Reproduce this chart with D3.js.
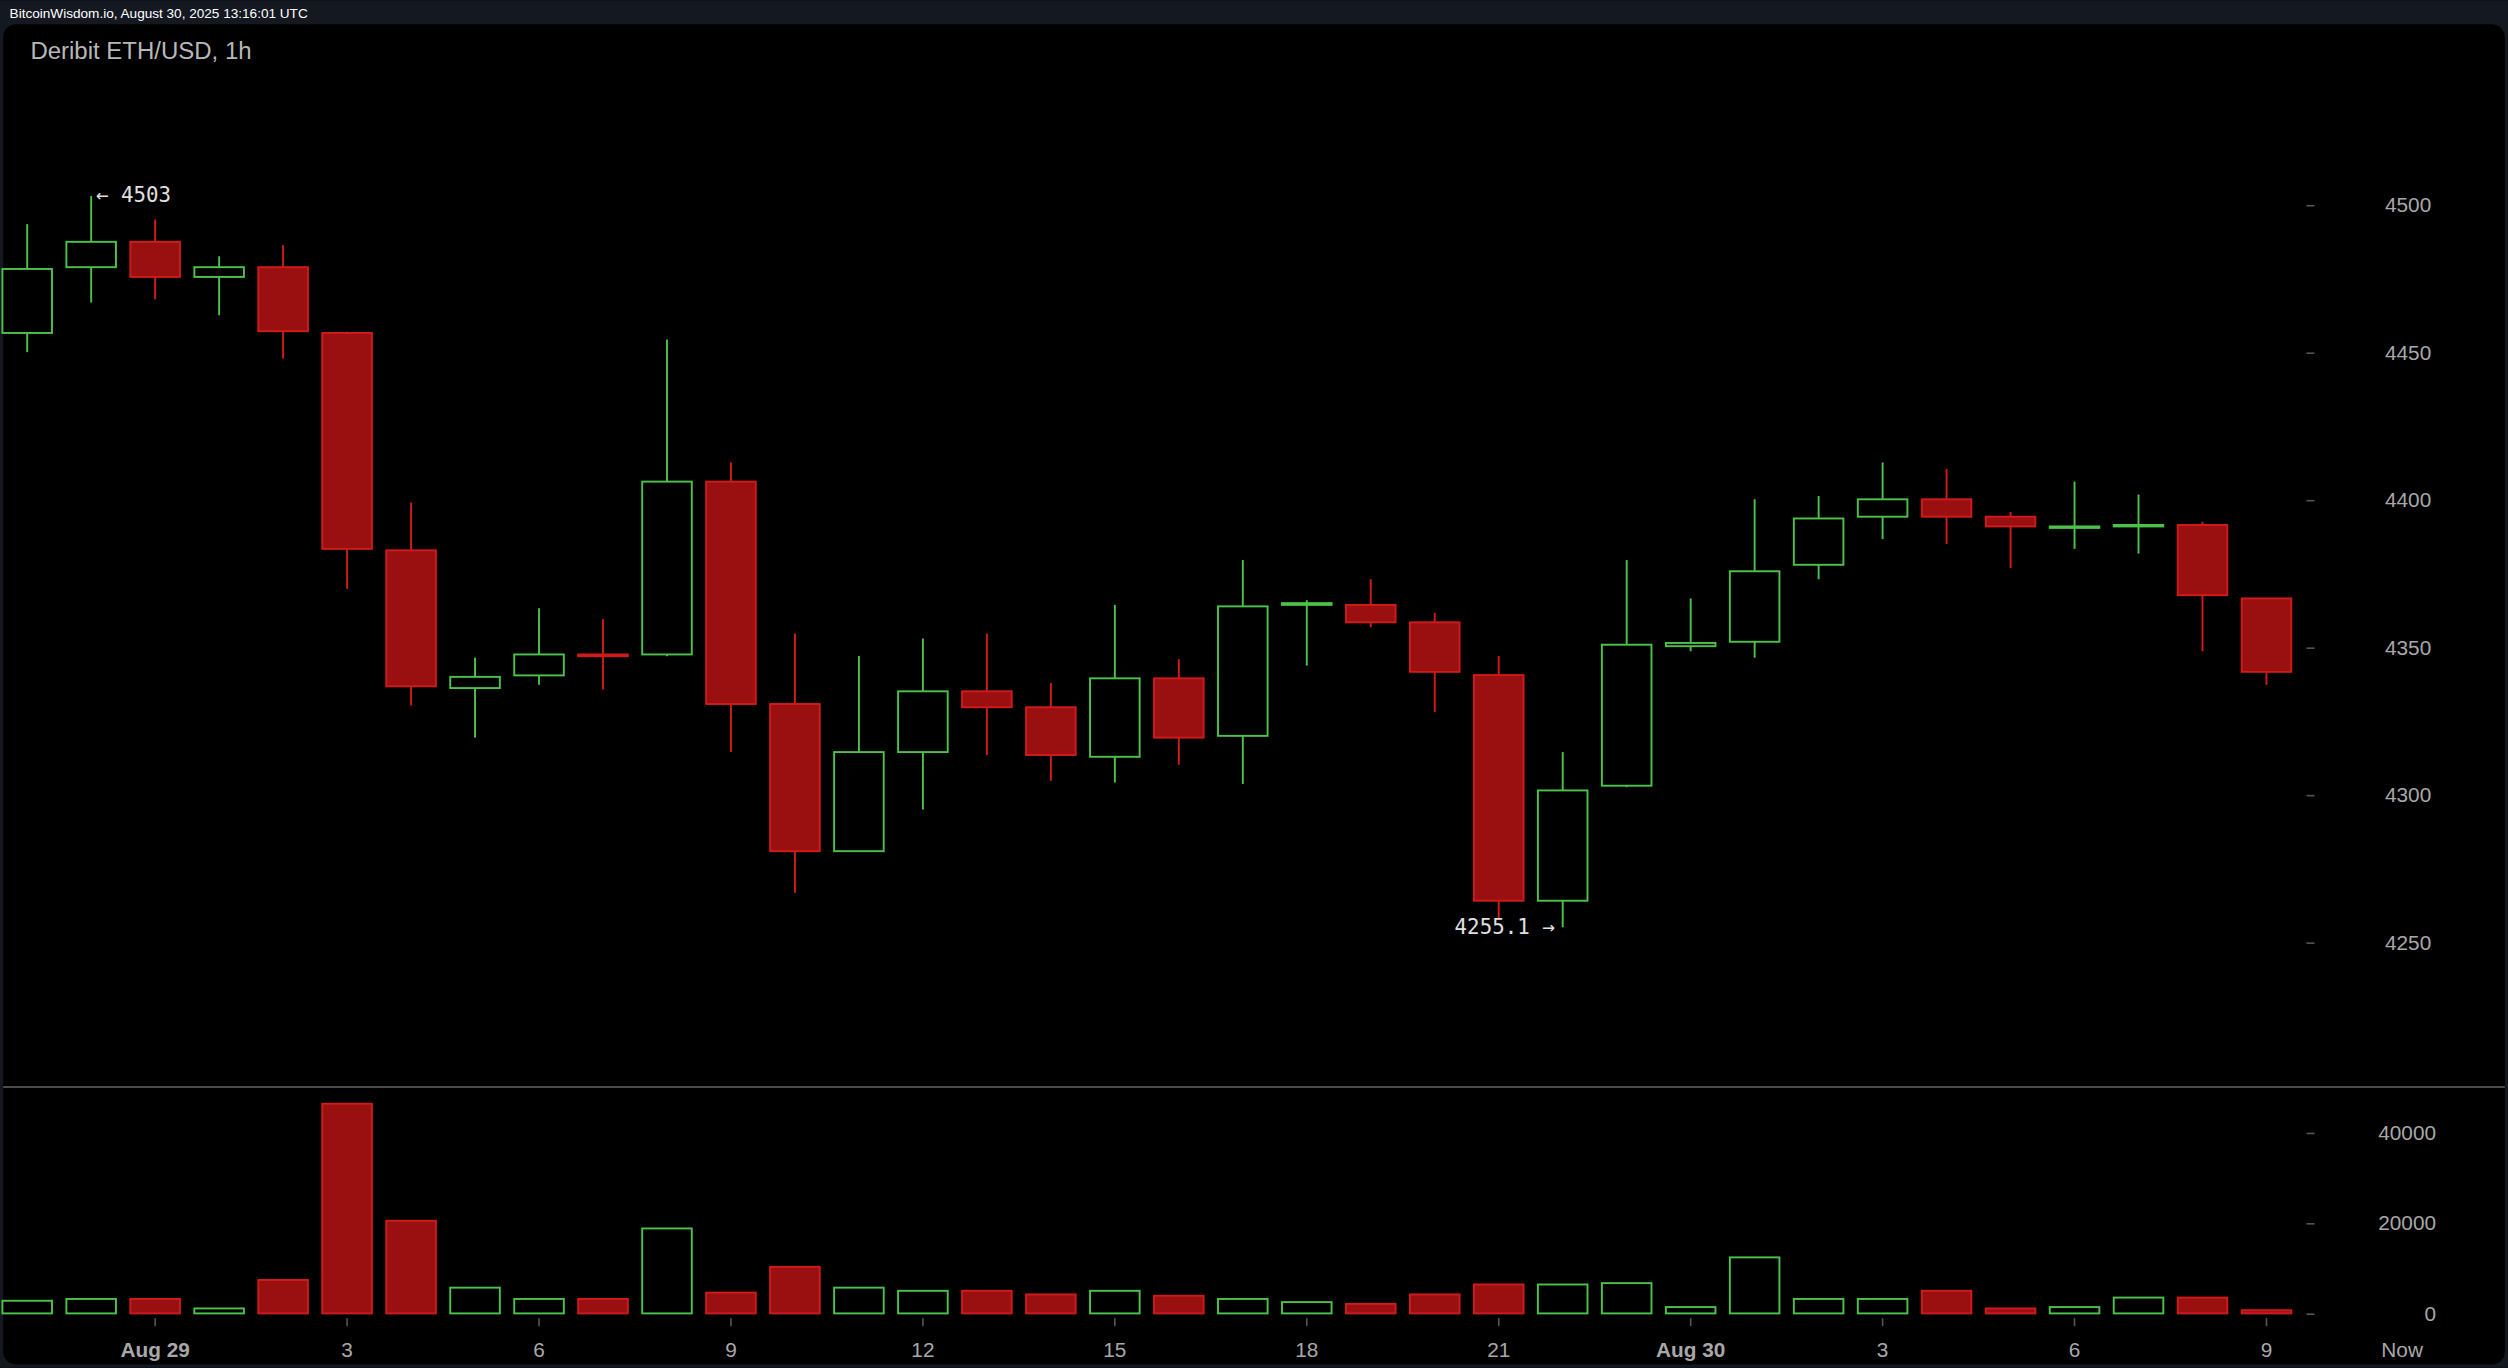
<!DOCTYPE html>
<html><head><meta charset="utf-8">
<script src="https://cdn.jsdelivr.net/npm/d3@7"></script>
<style>html,body{margin:0;padding:0;background:#000;overflow:hidden}</style>
</head><body>
<svg id="c" width="2508" height="1368" viewBox="0 0 1568 855"></svg>
<script>
const opens  = [4456.6,4478.9,4487.5,4475.6,4478.9,4456.6,4382.9,4336.2,4340.5,4347.6,4347.6,4406.2,4330.8,4280.9,4314.5,4335.1,4329.7,4312.9,4339.5,4320.0,4364.4,4364.4,4358.5,4340.6,4264.1,4303.1,4350.4,4351.9,4378.0,4394.3,4400.2,4394.3,4390.5,4391.0,4391.5,4366.6];
const closes = [4478.3,4487.5,4475.6,4478.9,4457.2,4383.4,4336.8,4340.0,4347.6,4347.0,4406.2,4330.8,4280.9,4314.5,4335.1,4329.7,4313.5,4339.5,4319.4,4363.9,4365.0,4358.5,4341.7,4264.1,4301.5,4350.9,4351.5,4375.8,4393.7,4400.2,4394.3,4391.0,4391.0,4391.5,4367.7,4341.7];
const highs  = [4493.5,4503.0,4495.1,4482.6,4486.4,4457.0,4399.1,4346.5,4363.3,4359.5,4454.4,4412.7,4354.7,4347.1,4353.0,4354.7,4337.9,4364.4,4346.0,4379.6,4366.0,4373.1,4361.7,4347.1,4314.5,4379.6,4366.6,4400.2,4401.3,4412.7,4410.5,4395.9,4406.2,4401.8,4392.6,4366.6];
const lows   = [4450.1,4466.9,4468.0,4462.6,4447.9,4369.9,4330.3,4319.4,4337.3,4335.7,4347.0,4314.5,4266.8,4280.9,4295.0,4313.5,4304.8,4304.2,4310.2,4303.7,4343.8,4356.8,4328.1,4258.0,4255.1,4302.6,4348.7,4346.5,4373.1,4386.7,4385.0,4376.9,4383.4,4381.8,4348.7,4337.3];
const volumes= [2800,3200,3200,1100,7400,46400,20500,5700,3200,3200,18800,4600,10300,5700,5000,5000,4200,5000,3900,3200,2500,2100,4200,6400,6400,6700,1400,12400,3200,3200,5000,1100,1400,3500,3500,700];
const priceTicks = [4250,4300,4350,4400,4450,4500];
const volTicks = [0,20000,40000];
const timeLabels = [[2,"Aug 29"],[5,"3"],[8,"6"],[11,"9"],[14,"12"],[17,"15"],[20,"18"],[23,"21"],[26,"Aug 30"],[29,"3"],[32,"6"],[35,"9"],[37.12,"Now"]];

const svg = d3.select("#c");
const x = d3.scaleLinear().domain([0,35]).range([17,1417]);
const y = d3.scaleLinear().domain([4250,4500]).range([589,128]);
const yv = d3.scaleLinear().domain([0,40000]).range([821,708]);
const GREEN="#4cc24c", RED="#d11b1b", REDF="#9a0f0f", TXT="#a8a8a8";
const font="'Liberation Sans', Arial, sans-serif";

svg.append("rect").attr("width",1568).attr("height",855).attr("fill","#141820");
svg.append("rect").attr("x",2).attr("y",15).attr("width",1564).attr("height",838).attr("rx",8).attr("fill","#000");
svg.append("text").attr("x",6).attr("y",11).attr("fill","#fff").attr("font-size",8.5).attr("font-family",font).text("BitcoinWisdom.io, August 30, 2025 13:16:01 UTC");
svg.append("text").attr("x",19).attr("y",37).attr("fill","#b8b8b8").attr("font-size",15).attr("font-family",font).text("Deribit ETH/USD, 1h");
svg.append("line").attr("x1",2).attr("x2",1566).attr("y1",679.5).attr("y2",679.5).attr("stroke","#666").attr("stroke-width",1);

const n = opens.length, idx = d3.range(n), bw = 31;
const up = i => closes[i] >= opens[i];

// price axis
const pa = svg.append("g").attr("transform","translate(1447,0)")
  .call(d3.axisLeft(y).tickValues(priceTicks).tickSize(5).tickFormat(d3.format("d")));
pa.select(".domain").remove();
pa.selectAll("line").attr("stroke","#555");
pa.selectAll("text").attr("x",73).attr("text-anchor","end").attr("fill",TXT).attr("font-size",13).attr("font-family",font);
const va = svg.append("g").attr("transform","translate(1447,0)")
  .call(d3.axisLeft(yv).tickValues(volTicks).tickSize(5).tickFormat(d3.format("d")));
va.select(".domain").remove();
va.selectAll("line").attr("stroke","#555");
va.selectAll("text").attr("x",76).attr("text-anchor","end").attr("fill",TXT).attr("font-size",13).attr("font-family",font);

// wicks
svg.append("g").selectAll("line").data(idx).join("line")
  .attr("x1",i=>x(i)).attr("x2",i=>x(i)).attr("y1",i=>y(highs[i])).attr("y2",i=>y(lows[i]))
  .attr("stroke",i=>up(i)?GREEN:RED).attr("stroke-width",1.2);
// bodies
svg.append("g").selectAll("rect").data(idx).join("rect")
  .attr("x",i=>x(i)-bw/2).attr("width",bw)
  .attr("y",i=>y(Math.max(opens[i],closes[i])))
  .attr("height",i=>Math.max(0.5,Math.abs(y(opens[i])-y(closes[i]))))
  .attr("fill",i=>up(i)?"#000":REDF).attr("stroke",i=>up(i)?GREEN:RED).attr("stroke-width",1.2);
// volumes
svg.append("g").selectAll("rect").data(idx).join("rect")
  .attr("x",i=>x(i)-bw/2).attr("width",bw)
  .attr("y",i=>yv(volumes[i])).attr("height",i=>yv(0)-yv(volumes[i]))
  .attr("fill",i=>up(i)?"#000":REDF).attr("stroke",i=>up(i)?GREEN:RED).attr("stroke-width",1.2);

// time axis
const tg = svg.append("g");
tg.selectAll("line").data(timeLabels.slice(0,-1)).join("line")
  .attr("x1",d=>x(d[0])).attr("x2",d=>x(d[0])).attr("y1",824).attr("y2",829).attr("stroke","#555");
tg.selectAll("text").data(timeLabels).join("text")
  .attr("x",d=>x(d[0])).attr("y",848).attr("text-anchor","middle").attr("fill",TXT)
  .attr("font-size",13).attr("font-family",font).attr("font-weight",d=>d[1].startsWith("Aug")?"bold":"normal").text(d=>d[1]);

// annotations
const hiI = d3.maxIndex(highs), loI = d3.minIndex(lows);
svg.append("text").attr("x",x(hiI)+3).attr("y",y(highs[hiI])+4).attr("fill","#e0e0e0").attr("font-size",13)
  .attr("font-family","'DejaVu Sans Mono', monospace").text("← " + highs[hiI]);
svg.append("text").attr("x",x(loI)-5).attr("y",y(lows[loI])+4).attr("text-anchor","end").attr("fill","#e0e0e0").attr("font-size",13)
  .attr("font-family","'DejaVu Sans Mono', monospace").text(lows[loI].toFixed(1) + " →");
</script>
</body></html>
